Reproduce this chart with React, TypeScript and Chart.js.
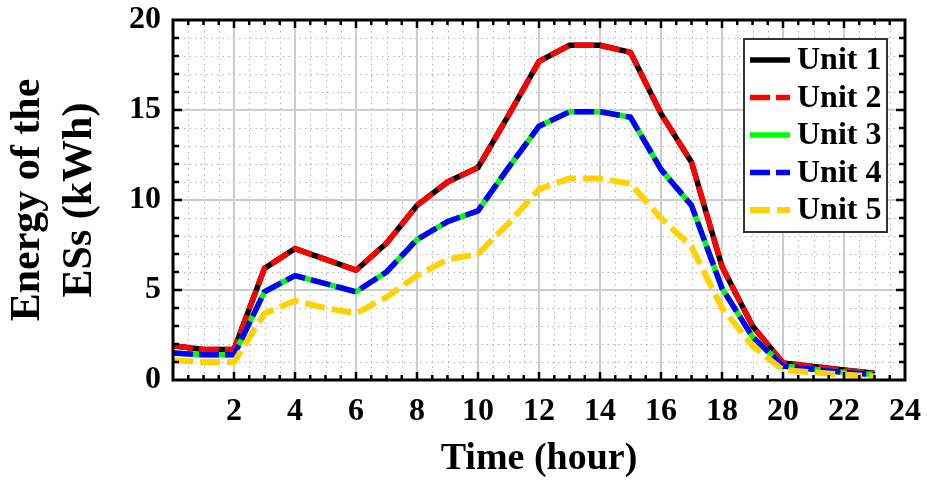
import React, { useEffect, useRef } from 'react';
import { Chart, registerables } from 'chart.js';

Chart.register(...registerables);

// Hour of day for each sample
const hours = [0, 1, 2, 3, 4, 5, 6, 7, 8, 9, 10, 11, 12, 13, 14, 15, 16, 17, 18, 19, 20, 21, 22, 23];

// Stored energy of each unit's ES (kWh)
const unit1Energy = [1.9, 1.7, 1.7, 6.2, 7.3, 6.7, 6.1, 7.6, 9.7, 11.0, 11.8, 14.7, 17.7, 18.6, 18.6, 18.2, 14.8, 12.1, 6.3, 3.0, 0.95, 0.75, 0.55, 0.37];
const unit2Energy = [1.9, 1.7, 1.7, 6.2, 7.3, 6.7, 6.1, 7.6, 9.7, 11.0, 11.8, 14.7, 17.7, 18.6, 18.6, 18.2, 14.8, 12.1, 6.3, 3.0, 0.95, 0.75, 0.55, 0.37];
const unit3Energy = [1.5, 1.4, 1.4, 4.9, 5.8, 5.35, 4.9, 6.0, 7.8, 8.8, 9.4, 11.8, 14.1, 14.9, 14.9, 14.6, 11.7, 9.7, 5.1, 2.4, 0.78, 0.6, 0.43, 0.3];
const unit4Energy = [1.5, 1.4, 1.4, 4.9, 5.8, 5.35, 4.9, 6.0, 7.8, 8.8, 9.4, 11.8, 14.1, 14.9, 14.9, 14.6, 11.7, 9.7, 5.1, 2.4, 0.78, 0.6, 0.43, 0.3];
const unit5Energy = [1.1, 1.0, 1.0, 3.7, 4.4, 4.0, 3.7, 4.6, 5.8, 6.7, 7.0, 8.7, 10.6, 11.2, 11.2, 10.9, 9.0, 7.4, 4.0, 1.9, 0.55, 0.42, 0.3, 0.2];

const seriesLabels = ['Unit 1', 'Unit 2', 'Unit 3', 'Unit 4', 'Unit 5'];
const xAxisTitle = 'Time (hour)';
const yAxisTitle = ['Energy of the', 'ESs (kWh)'];

const X_MIN = 0;
const X_MAX = 24;
const X_MAJOR = 2;
const X_MINOR = 0.5;
const Y_MIN = 0;
const Y_MAX = 20;
const Y_MAJOR = 5;
const Y_MINOR = 1;

const FONT = '"Liberation Serif", "Times New Roman", serif';

const toPoints = (values: number[]) => hours.map((h, i) => ({ x: h, y: values[i] }));

const isMultiple = (v: number, step: number) => Math.abs(v / step - Math.round(v / step)) < 1e-6;

// Dotted minor grid drawn underneath everything else
const minorGridPlugin = {
  id: 'minorGrid',
  beforeDraw(chart: any) {
    const { ctx, chartArea, scales } = chart;
    const xs = scales.x;
    const ys = scales.y;
    ctx.save();
    ctx.strokeStyle = '#b4b4b4';
    ctx.lineWidth = 1;
    ctx.setLineDash([1.5, 4]);
    for (let v = X_MIN + X_MINOR; v < X_MAX - 1e-9; v += X_MINOR) {
      if (isMultiple(v, X_MAJOR)) continue;
      const px = Math.round(xs.getPixelForValue(v)) + 0.5;
      ctx.beginPath();
      ctx.moveTo(px, chartArea.top);
      ctx.lineTo(px, chartArea.bottom);
      ctx.stroke();
    }
    for (let v = Y_MIN + Y_MINOR; v < Y_MAX - 1e-9; v += Y_MINOR) {
      if (isMultiple(v, Y_MAJOR)) continue;
      const py = Math.round(ys.getPixelForValue(v)) + 0.5;
      ctx.beginPath();
      ctx.moveTo(chartArea.left, py);
      ctx.lineTo(chartArea.right, py);
      ctx.stroke();
    }
    ctx.restore();
  },
};

// Box frame with inward major/minor tick marks on all four sides
const frameTicksPlugin = {
  id: 'frameTicks',
  afterDatasetsDraw(chart: any) {
    const { ctx, chartArea, scales } = chart;
    const { left, right, top, bottom } = chartArea;
    const xs = scales.x;
    const ys = scales.y;
    ctx.save();
    ctx.strokeStyle = '#000';
    ctx.setLineDash([]);
    ctx.lineWidth = 2.5;
    ctx.lineCap = 'butt';
    for (let v = X_MIN + X_MINOR; v < X_MAX - 1e-9; v += X_MINOR) {
      const len = isMultiple(v, X_MAJOR) ? 8 : 5;
      const px = xs.getPixelForValue(v);
      ctx.beginPath();
      ctx.moveTo(px, bottom);
      ctx.lineTo(px, bottom - len);
      ctx.moveTo(px, top);
      ctx.lineTo(px, top + len);
      ctx.stroke();
    }
    for (let v = Y_MIN + Y_MINOR; v < Y_MAX - 1e-9; v += Y_MINOR) {
      const len = isMultiple(v, Y_MAJOR) ? 9 : 6;
      const py = ys.getPixelForValue(v);
      ctx.beginPath();
      ctx.moveTo(left, py);
      ctx.lineTo(left + len, py);
      ctx.moveTo(right, py);
      ctx.lineTo(right - len, py);
      ctx.stroke();
    }
    ctx.lineWidth = 3;
    ctx.strokeRect(left, top, right - left, bottom - top);
    ctx.restore();
  },
};

// Boxed legend in the upper right corner of the plot
const boxLegendPlugin = {
  id: 'boxLegend',
  afterDraw(chart: any) {
    const { ctx, chartArea } = chart;
    const datasets = chart.data.datasets;
    const boxRight = chartArea.right - 18;
    const boxTop = chartArea.top + 19;
    const boxW = 143;
    const rowH = 37.5;
    const boxH = 193;
    const boxLeft = boxRight - boxW;
    ctx.save();
    ctx.fillStyle = '#fff';
    ctx.fillRect(boxLeft, boxTop, boxW, boxH);
    ctx.strokeStyle = '#333';
    ctx.lineWidth = 2;
    ctx.setLineDash([]);
    ctx.strokeRect(boxLeft, boxTop, boxW, boxH);
    ctx.font = `bold 32px ${FONT}`;
    ctx.textBaseline = 'middle';
    ctx.textAlign = 'left';
    datasets.forEach((ds: any, i: number) => {
      const cy = boxTop + 21 + i * rowH;
      ctx.strokeStyle = ds.borderColor;
      ctx.lineWidth = ds.borderWidth;
      ctx.lineCap = 'butt';
      ctx.setLineDash(ds.borderDash || []);
      ctx.beginPath();
      ctx.moveTo(boxLeft + 6, cy);
      ctx.lineTo(boxLeft + 46, cy);
      ctx.stroke();
      ctx.setLineDash([]);
      ctx.fillStyle = '#000';
      ctx.fillText(ds.label, boxLeft + 53, cy + 1);
    });
    ctx.restore();
  },
};

export default function App() {
  const canvasRef = useRef<HTMLCanvasElement | null>(null);

  useEffect(() => {
    const canvas = canvasRef.current;
    if (!canvas) return;

    const makeSet = (label: string, values: number[], color: string, width: number, dash: number[], order: number) => ({
      label,
      data: toPoints(values),
      borderColor: color,
      backgroundColor: color,
      borderWidth: width,
      borderDash: dash,
      pointRadius: 0,
      tension: 0,
      fill: false,
      order,
    });

    const chart = new Chart(canvas, {
      type: 'line',
      data: {
        datasets: [
          makeSet(seriesLabels[0], unit1Energy, '#000000', 5.5, [], 5),
          makeSet(seriesLabels[1], unit2Energy, '#ff0000', 5.5, [20, 6], 4),
          makeSet(seriesLabels[2], unit3Energy, '#00ff00', 5.5, [], 3),
          makeSet(seriesLabels[3], unit4Energy, '#0000ff', 5.5, [20, 6], 2),
          makeSet(seriesLabels[4], unit5Energy, '#ffd200', 6, [20, 7], 1),
        ],
      },
      options: {
        responsive: false,
        animation: false,
        devicePixelRatio: 1,
        layout: { padding: { left: 0, right: 22, top: 20, bottom: 0 } },
        plugins: {
          legend: { display: false },
          tooltip: { enabled: false },
        },
        elements: {
          line: { borderJoinStyle: 'round', borderCapStyle: 'butt' },
        },
        scales: {
          x: {
            type: 'linear',
            min: X_MIN,
            max: X_MAX,
            ticks: {
              stepSize: X_MAJOR,
              autoSkip: false,
              maxRotation: 0,
              padding: 13,
              color: '#000',
              font: { family: FONT, size: 32, weight: 'bold' },
              callback: (v: any) => (Number(v) === 0 ? '' : String(v)),
            },
            grid: {
              color: (c: any) => (c.tick && c.tick.value > X_MIN && c.tick.value < X_MAX ? '#cdcdcd' : 'rgba(0,0,0,0)'),
              lineWidth: 2,
              drawTicks: false,
            },
            border: { display: false },
            title: {
              display: true,
              text: xAxisTitle,
              color: '#000',
              font: { family: FONT, size: 38, weight: 'bold', lineHeight: 1.2 },
              padding: { top: 0, bottom: 0 },
            },
            afterFit: (s: any) => {
              s.height = 102;
              s.paddingLeft = 0;
              s.paddingRight = 0;
            },
          },
          y: {
            type: 'linear',
            min: Y_MIN,
            max: Y_MAX,
            ticks: {
              stepSize: Y_MAJOR,
              padding: 12,
              color: '#000',
              font: { family: FONT, size: 32, weight: 'bold' },
            },
            grid: {
              color: (c: any) => (c.tick && c.tick.value > Y_MIN && c.tick.value < Y_MAX ? '#cdcdcd' : 'rgba(0,0,0,0)'),
              lineWidth: 2,
              drawTicks: false,
            },
            border: { display: false },
            title: {
              display: true,
              text: yAxisTitle,
              color: '#000',
              font: { family: FONT, size: 42, weight: 'bold', lineHeight: 1.24 },
              padding: { top: 2, bottom: 0 },
            },
            afterFit: (s: any) => {
              s.width = 173;
              s.paddingTop = 0;
              s.paddingBottom = 0;
            },
          },
        },
      },
      plugins: [minorGridPlugin, frameTicksPlugin, boxLegendPlugin],
    } as any);

    return () => {
      chart.destroy();
    };
  }, []);

  return (
    <div style={{ position: 'fixed', left: 0, top: 0, width: 927, height: 482, background: '#fff' }}>
      <canvas ref={canvasRef} width={927} height={482} style={{ display: 'block', width: 927, height: 482 }} />
    </div>
  );
}
